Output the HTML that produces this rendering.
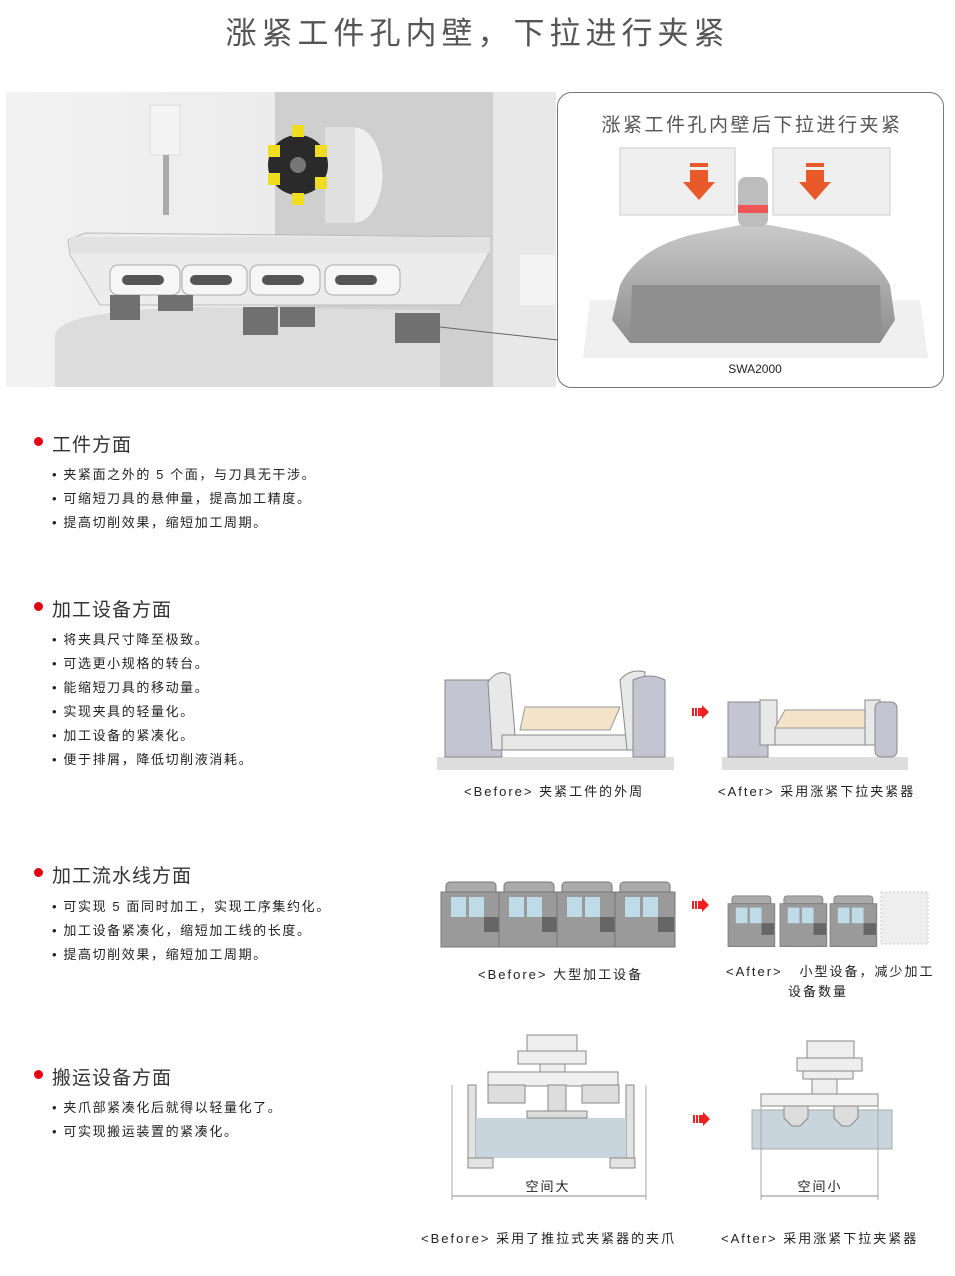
<!DOCTYPE html>
<html><head><meta charset="utf-8"><style>
body{margin:0;width:955px;height:1276px;background:#fff;position:relative;overflow:hidden;font-family:"Liberation Sans","Noto Sans CJK SC",sans-serif;color:#333}
.a{position:absolute;white-space:nowrap}
.h{font-size:19px;color:#333;letter-spacing:1px}
.dot{position:absolute;width:9px;height:9px;border-radius:50%;background:#e50012}
.li{font-size:13px;color:#222;letter-spacing:1.6px}
.cap{font-size:13px;color:#222;letter-spacing:2px}
</style></head><body>
<div class="a" style="left:0;width:955px;top:8px;text-align:center;font-size:31px;color:#555;letter-spacing:5px">涨紧工件孔内壁，下拉进行夹紧</div>

<svg class="a" style="left:0;top:85px" width="955" height="310">
<defs><linearGradient id="bg" x1="0" x2="1"><stop offset="0" stop-color="#f2f2f2"/><stop offset="1" stop-color="#e6e6e6"/></linearGradient>
<linearGradient id="mt" x1="0" y1="0" x2="0" y2="1"><stop offset="0" stop-color="#c9c9c9"/><stop offset="1" stop-color="#8d8d8d"/></linearGradient></defs>
<rect x="6" y="7" width="550" height="295" fill="url(#bg)"/>
<rect x="275" y="7" width="218" height="295" fill="#cfcfcf"/>
<rect x="493" y="7" width="63" height="295" fill="#e8e8e8"/>
<path d="M55 250 Q60 225 200 222 L440 225 L440 302 L55 302Z" fill="#dcdcdc"/>
<rect x="150" y="20" width="30" height="50" fill="#f4f4f4" stroke="#ddd"/>
<rect x="163" y="70" width="6" height="60" fill="#aaa"/>
<ellipse cx="355" cy="90" rx="28" ry="48" fill="#efefef" stroke="#ccc"/>
<rect x="325" y="42" width="30" height="96" fill="#e0e0e0"/>
<circle cx="298" cy="80" r="30" fill="#2a2a2a"/>
<g fill="#f0dc20"><rect x="292" y="40" width="12" height="12"/><rect x="315" y="60" width="12" height="12"/><rect x="315" y="92" width="12" height="12"/><rect x="292" y="108" width="12" height="12"/><rect x="268" y="88" width="12" height="12"/><rect x="268" y="60" width="12" height="12"/></g>
<circle cx="298" cy="80" r="8" fill="#777"/>
<path d="M68 155 L85 148 L490 152 L488 170 L460 220 L100 220 L70 170Z" fill="#ececec" stroke="#bbb"/>
<rect x="70" y="152" width="420" height="16" fill="#e2e2e2"/>
<g fill="#f6f6f6" stroke="#aaa"><rect x="110" y="180" width="70" height="30" rx="8"/><rect x="182" y="180" width="65" height="30" rx="8"/><rect x="250" y="180" width="70" height="30" rx="8"/><rect x="325" y="180" width="75" height="30" rx="8"/></g>
<g fill="#555"><rect x="122" y="190" width="42" height="10" rx="5"/><rect x="190" y="190" width="42" height="10" rx="5"/><rect x="262" y="190" width="42" height="10" rx="5"/><rect x="335" y="190" width="42" height="10" rx="5"/></g>
<g fill="#707070"><rect x="110" y="210" width="30" height="25"/><rect x="158" y="210" width="35" height="16"/><rect x="243" y="222" width="35" height="28"/><rect x="280" y="222" width="35" height="20"/><rect x="395" y="228" width="45" height="30"/></g>
<rect x="520" y="170" width="35" height="50" fill="#f4f4f4"/>
<line x1="440" y1="242" x2="558" y2="255" stroke="#666"/>
<rect x="557.5" y="7.5" width="386" height="295" rx="14" fill="#fff" stroke="#777"/>
<text x="752" y="46" text-anchor="middle" font-size="19" fill="#555" letter-spacing="2.5" font-family="Liberation Sans,Noto Sans CJK SC,sans-serif">涨紧工件孔内壁后下拉进行夹紧</text>
<path d="M590 215 L920 215 L928 273 L583 273Z" fill="#f0f0f0"/>
<rect x="620" y="63" width="115" height="67" fill="#efefef" stroke="#ccc"/>
<rect x="773" y="63" width="117" height="67" fill="#efefef" stroke="#ccc"/>
<path d="M620 200 Q640 160 700 148 L740 140 L770 140 L810 148 Q870 160 890 200 L895 235 L880 258 L630 258 L612 235Z" fill="url(#mt)"/>
<path d="M632 200 L880 200 L882 255 L630 255Z" fill="#8f8f8f"/>
<rect x="738" y="92" width="30" height="50" rx="8" fill="#bdbdbd"/>
<rect x="738" y="120" width="30" height="8" fill="#e55"/>
<g fill="#e85a2a"><rect x="690" y="78" width="18" height="4"/><rect x="690" y="85" width="18" height="12"/><path d="M683 97 L715 97 L699 115Z"/><rect x="806" y="78" width="18" height="4"/><rect x="806" y="85" width="18" height="12"/><path d="M799 97 L831 97 L815 115Z"/></g>
<text x="755" y="288" text-anchor="middle" font-size="12" fill="#222" font-family="Liberation Sans,sans-serif">SWA2000</text>
</svg>

<div class="dot" style="left:34px;top:437px"></div><div class="a h" style="left:52px;top:430px">工件方面</div>
<div class="a li" style="left:52px;top:464px">• 夹紧面之外的 5 个面，与刀具无干涉。</div>
<div class="a li" style="left:52px;top:488px">• 可缩短刀具的悬伸量，提高加工精度。</div>
<div class="a li" style="left:52px;top:512px">• 提高切削效果，缩短加工周期。</div>

<div class="dot" style="left:34px;top:602px"></div><div class="a h" style="left:52px;top:595px">加工设备方面</div>
<div class="a li" style="left:52px;top:629px">• 将夹具尺寸降至极致。</div>
<div class="a li" style="left:52px;top:653px">• 可选更小规格的转台。</div>
<div class="a li" style="left:52px;top:677px">• 能缩短刀具的移动量。</div>
<div class="a li" style="left:52px;top:701px">• 实现夹具的轻量化。</div>
<div class="a li" style="left:52px;top:725px">• 加工设备的紧凑化。</div>
<div class="a li" style="left:52px;top:749px">• 便于排屑，降低切削液消耗。</div>

<div class="dot" style="left:34px;top:868px"></div><div class="a h" style="left:52px;top:861px">加工流水线方面</div>
<div class="a li" style="left:52px;top:896px">• 可实现 5 面同时加工，实现工序集约化。</div>
<div class="a li" style="left:52px;top:920px">• 加工设备紧凑化，缩短加工线的长度。</div>
<div class="a li" style="left:52px;top:944px">• 提高切削效果，缩短加工周期。</div>

<div class="dot" style="left:34px;top:1070px"></div><div class="a h" style="left:52px;top:1063px">搬运设备方面</div>
<div class="a li" style="left:52px;top:1097px">• 夹爪部紧凑化后就得以轻量化了。</div>
<div class="a li" style="left:52px;top:1121px">• 可实现搬运装置的紧凑化。</div>

<svg class="a" style="left:430px;top:660px" width="510" height="600">
<defs><g id="ar"><rect x="0" y="3" width="2" height="8" fill="#e22"/><rect x="3" y="3" width="2" height="8" fill="#e22"/><rect x="6" y="3" width="4" height="8" fill="#e22"/><path d="M10 0 L17 7 L10 14Z" fill="#e22"/></g>
<g id="mc"><rect x="5" y="5" width="50" height="65" rx="4" fill="#aaa" stroke="#777"/><rect x="0" y="15" width="60" height="55" fill="#9a9a9a" stroke="#777"/><rect x="10" y="20" width="15" height="20" fill="#bfdbe8"/><rect x="28" y="20" width="15" height="20" fill="#bfdbe8"/><rect x="43" y="40" width="16" height="15" fill="#666"/></g></defs>
<rect x="7" y="97" width="237" height="13" fill="#ddd"/>
<path d="M15 20 L65 20 L72 97 L15 97Z" fill="#c4c5d2" stroke="#888"/>
<path d="M58 22 Q68 8 80 15 L85 75 L72 90 L62 90Z" fill="#e8e8e8" stroke="#888"/>
<rect x="72" y="75" width="125" height="15" fill="#e8e8e8" stroke="#888"/>
<path d="M95 47 L190 47 L180 70 L90 70Z" fill="#f3e3c8" stroke="#999"/>
<path d="M190 20 Q200 8 215 12 L210 90 L197 90Z" fill="#e8e8e8" stroke="#888"/>
<path d="M203 20 Q220 12 235 20 L235 97 L203 97Z" fill="#c4c5d2" stroke="#888"/>
<use href="#ar" x="262" y="45"/>
<rect x="292" y="97" width="186" height="13" fill="#ddd"/>
<rect x="298" y="42" width="40" height="55" fill="#c4c5d2" stroke="#888"/>
<rect x="330" y="40" width="17" height="45" fill="#e8e8e8" stroke="#888"/>
<rect x="345" y="68" width="90" height="17" fill="#e8e8e8" stroke="#888"/>
<path d="M355 50 L435 50 L435 68 L345 68Z" fill="#f3e3c8" stroke="#999"/>
<rect x="435" y="40" width="15" height="45" fill="#e8e8e8" stroke="#888"/>
<rect x="445" y="42" width="22" height="55" rx="6" fill="#c4c5d2" stroke="#888"/>
<use href="#mc" x="11" y="217"/><use href="#mc" x="69" y="217"/><use href="#mc" x="127" y="217"/><use href="#mc" x="185" y="217"/>
<use href="#ar" x="262" y="238"/>
<g transform="translate(298,232) scale(0.78)"><use href="#mc"/></g><g transform="translate(350,232) scale(0.78)"><use href="#mc"/></g><g transform="translate(400,232) scale(0.78)"><use href="#mc"/></g>
<rect x="451" y="232" width="47" height="52" fill="#eee" stroke="#ccc" stroke-dasharray="2 2"/>
<rect x="97" y="375" width="50" height="16" fill="#eee" stroke="#888"/>
<rect x="88" y="391" width="68" height="13" fill="#eee" stroke="#888"/>
<rect x="110" y="404" width="25" height="8" fill="#eee" stroke="#888"/>
<rect x="58" y="412" width="130" height="14" fill="#f0f0f0" stroke="#888"/>
<rect x="38" y="425" width="8" height="75" fill="#e3e3e3" stroke="#888"/>
<rect x="196" y="425" width="8" height="75" fill="#e3e3e3" stroke="#888"/>
<rect x="46" y="458" width="150" height="40" fill="#c9d5dd"/>
<rect x="58" y="425" width="37" height="18" fill="#ddd" stroke="#888"/><rect x="152" y="425" width="37" height="18" fill="#ddd" stroke="#888"/>
<rect x="118" y="425" width="18" height="30" fill="#ddd" stroke="#888"/>
<rect x="97" y="451" width="60" height="7" fill="#ddd" stroke="#888"/>
<rect x="38" y="498" width="25" height="10" fill="#e3e3e3" stroke="#888"/><rect x="180" y="498" width="25" height="10" fill="#e3e3e3" stroke="#888"/>
<line x1="22" y1="536" x2="216" y2="536" stroke="#888"/>
<line x1="22" y1="425" x2="22" y2="540" stroke="#aaa"/><line x1="216" y1="425" x2="216" y2="540" stroke="#aaa"/>
<text x="118" y="531" text-anchor="middle" font-size="13" fill="#222" letter-spacing="2" font-family="Liberation Sans,Noto Sans CJK SC,sans-serif">空间大</text>
<use href="#ar" x="263" y="452"/>
<rect x="377" y="381" width="47" height="17" fill="#eee" stroke="#888"/>
<rect x="367" y="398" width="65" height="13" fill="#eee" stroke="#888"/>
<rect x="373" y="411" width="50" height="8" fill="#eee" stroke="#888"/>
<rect x="382" y="419" width="25" height="15" fill="#eee" stroke="#888"/>
<rect x="331" y="434" width="117" height="12" fill="#f0f0f0" stroke="#888"/>
<rect x="322" y="450" width="140" height="39" fill="#c9d5dd" stroke="#aaa"/>
<path d="M354 446 L378 446 L378 458 L370 466 L362 466 L354 458Z" fill="#ddd" stroke="#888"/>
<path d="M404 446 L428 446 L428 458 L420 466 L412 466 L404 458Z" fill="#ddd" stroke="#888"/>
<line x1="331" y1="446" x2="331" y2="540" stroke="#aaa"/><line x1="448" y1="446" x2="448" y2="540" stroke="#aaa"/>
<line x1="331" y1="536" x2="448" y2="536" stroke="#888"/>
<text x="390" y="531" text-anchor="middle" font-size="13" fill="#222" letter-spacing="2" font-family="Liberation Sans,Noto Sans CJK SC,sans-serif">空间小</text>
</svg>

<div class="a cap" style="left:464px;top:781px">&lt;Before&gt; 夹紧工件的外周</div>
<div class="a cap" style="left:718px;top:781px">&lt;After&gt; 采用涨紧下拉夹紧器</div>
<div class="a cap" style="left:478px;top:964px">&lt;Before&gt; 大型加工设备</div>
<div class="a cap" style="left:726px;top:961px">&lt;After&gt;&nbsp;&nbsp;&nbsp;小型设备，减少加工</div>
<div class="a cap" style="left:788px;top:981px">设备数量</div>
<div class="a cap" style="left:421px;top:1228px">&lt;Before&gt; 采用了推拉式夹紧器的夹爪</div>
<div class="a cap" style="left:721px;top:1228px">&lt;After&gt; 采用涨紧下拉夹紧器</div>
</body></html>
